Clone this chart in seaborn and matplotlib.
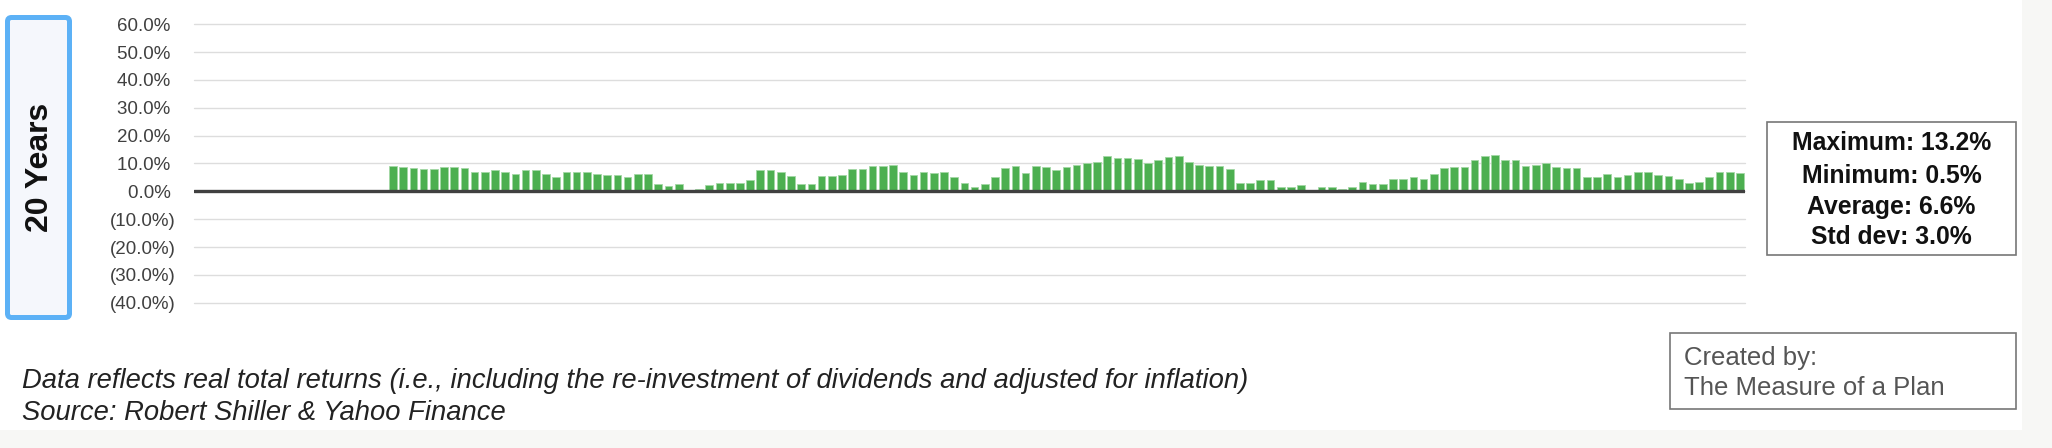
import matplotlib
matplotlib.use("Agg")
import matplotlib.pyplot as plt
import pandas as pd
import seaborn as sns
from matplotlib.patches import Rectangle, FancyBboxPatch
from matplotlib.transforms import IdentityTransform

# ---------------- data ----------------
years = [str(y) for y in range(1872, 2024)]          # 152 annual slots on the axis
first_data_year = 1891                                # first year with a 20-year return
returns_20y = [
    9.2, 8.9, 8.3, 8.0, 8.0, 8.8, 8.8, 8.3, 6.8, 6.8,
    7.6, 7.1, 6.4, 7.6, 7.6, 6.4, 5.1, 6.8, 6.8, 7.0,
    6.4, 5.8, 5.8, 5.1, 6.4, 6.4, 2.7, 1.9, 2.7, 0.5,
    0.8, 2.1, 3.0, 3.0, 3.0, 4.0, 7.6, 7.5, 6.8, 5.5,
    2.7, 2.7, 5.5, 5.5, 5.8, 7.9, 7.9, 9.1, 9.1, 9.3,
    7.0, 5.8, 7.0, 6.7, 7.0, 5.1, 3.0, 1.5, 2.7, 5.1,
    8.3, 9.2, 6.7, 9.1, 8.9, 7.7, 8.9, 9.6, 10.1, 10.4,
    12.7, 12.0, 12.0, 11.7, 10.3, 11.2, 12.5, 12.7, 10.7, 9.6,
    9.1, 9.1, 7.9, 3.0, 3.0, 4.0, 4.0, 1.7, 1.4, 2.1,
    0.6, 1.7, 1.7, 0.8, 1.7, 3.4, 2.7, 2.7, 4.3, 4.3,
    5.1, 4.6, 6.4, 8.3, 8.9, 8.9, 11.2, 12.7, 13.2, 11.4,
    11.4, 9.2, 9.6, 10.1, 8.9, 8.3, 8.3, 5.1, 5.1, 6.4,
    5.1, 5.8, 6.8, 7.1, 5.8, 5.6, 4.6, 3.0, 3.4, 5.1,
    7.1, 7.1, 6.7,
]
data_years = [str(y) for y in range(first_data_year, first_data_year + len(returns_20y))]

ytick_values = [60, 50, 40, 30, 20, 10, 0, -10, -20, -30, -40]
ytick_labels = ["60.0% ", "50.0% ", "40.0% ", "30.0% ", "20.0% ", "10.0% ", "0.0% ",
                "(10.0%)", "(20.0%)", "(30.0%)", "(40.0%)"]
panel_label = "20 Years"
stats_lines = ["Maximum: 13.2%", "Minimum: 0.5%", "Average: 6.6%", "Std dev: 3.0%"]
footnote_lines = [
    "Data reflects real total returns (i.e., including the re-investment of dividends and adjusted for inflation)",
    "Source: Robert Shiller & Yahoo Finance",
]
credit_lines = ["Created by:", "The Measure of a Plan"]

# ---------------- style ----------------
sns.set_theme(style="white")
plt.rcParams["font.family"] = ["Liberation Sans", "DejaVu Sans"]

W, H = 2052, 448
fig = plt.figure(figsize=(W / 100, H / 100), dpi=100)
fig.patch.set_facecolor("#f7f7f5")


def fx(x):
    return x / W


def fy(y):
    return 1 - y / H


# white card
fig.add_artist(Rectangle((0, fy(430)), fx(2022), 430 / H, transform=fig.transFigure,
                         facecolor="white", edgecolor="none", zorder=0))

# ---------------- axes ----------------
ax = fig.add_axes([fx(194), fy(302.7), (1745 - 194) / W, (302.7 - 24.3) / H])
ax.set_facecolor("none")

df = pd.DataFrame({"year": data_years, "ret": returns_20y})
sns.barplot(data=df, x="year", y="ret", order=years, color="#4caf50", saturation=1,
            width=0.75, edgecolor="#a3d8a5", linewidth=0.6, errorbar=None, ax=ax, zorder=2)

ax.set_xlim(-0.5, len(years) - 0.5)
ax.set_ylim(-40, 60)
ax.set_yticks(ytick_values)
ax.set_yticklabels(ytick_labels)
ax.tick_params(axis="y", length=0, pad=13, labelsize=13.5, labelcolor="#404040")
ax.set_xticks([])
ax.set_xlabel("")
ax.set_ylabel("")
ax.yaxis.grid(True, color="#dddddd", lw=1.0)
for gl in ax.get_ygridlines():
    gl.set_clip_on(False)
ax.set_axisbelow(True)
ax.axhline(0, color="#404040", lw=2.4, zorder=3)
for s in ax.spines.values():
    s.set_visible(False)

# ---------------- panel label box ----------------
fig.add_artist(FancyBboxPatch((7.5, H - 317.5), 62, 300,
                              boxstyle="round,pad=0,rounding_size=4",
                              transform=IdentityTransform(), facecolor="#f5f7fc",
                              edgecolor="#5cb1f6", lw=3.6, zorder=1))
fig.text(fx(40), fy(167), panel_label, rotation=90, ha="center", va="center",
         fontsize=23, fontweight="bold", color="#111111")

# ---------------- stats box ----------------
fig.add_artist(Rectangle((1767, H - 255), 249, 133, transform=IdentityTransform(),
                         facecolor="white", edgecolor="#777777", lw=1.2, zorder=1))
for yy, line in zip([143.3, 176, 206.7, 236.7], stats_lines):
    fig.text(fx(1891.5), fy(yy), line, ha="center", va="center", fontsize=17.8,
             fontweight="bold", color="#111111")

# ---------------- credit box ----------------
fig.add_artist(Rectangle((1670, H - 409), 346, 76, transform=IdentityTransform(),
                         facecolor="white", edgecolor="#777777", lw=1.2, zorder=1))
for yy, line in zip([358, 388], credit_lines):
    fig.text(fx(1684), fy(yy), line, ha="left", va="center", fontsize=18.5,
             color="#555555")

# ---------------- footnote ----------------
for yy, line in zip([388, 420], footnote_lines):
    fig.text(fx(22), fy(yy), line, ha="left", va="baseline", fontsize=19.7,
             style="italic", color="#222222")

fig.savefig("out.png", dpi=100, facecolor=fig.get_facecolor())
